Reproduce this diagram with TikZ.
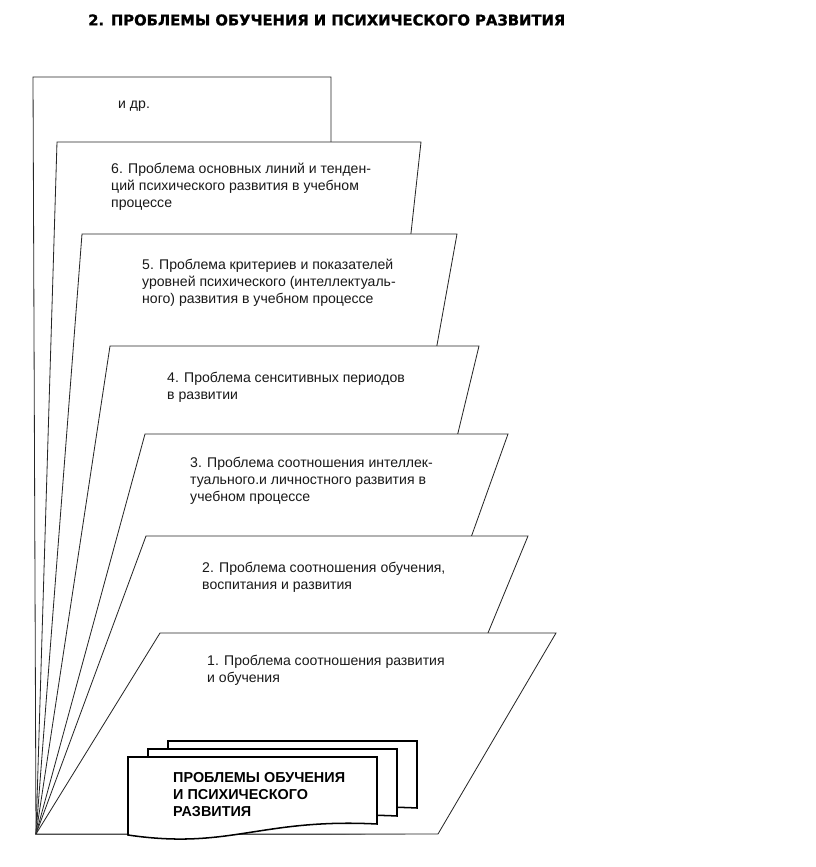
\documentclass[tikz,border=0pt]{standalone}
\usepackage{fontspec}
\setmainfont{Liberation Sans}
\newfontfamily\headfont{DejaVu Sans Bold}[FakeBold=1.2]
\usepackage{tikz}
\usetikzlibrary{positioning}

\begin{document}
\begin{tikzpicture}[
    x=0.03cm, y=-0.03cm,
    sheet/.style={draw=black!85, fill=white, line width=0.7pt},
    docpage/.style={draw=black, fill=white, line width=1.3pt},
    sheettext/.style={
        anchor=north west, inner sep=0pt, align=left,
        font=\fontsize{12}{14.5}\selectfont, text=black!90
    },
    boxtext/.style={
        anchor=north west, inner sep=0pt, align=left,
        font=\fontsize{12.3}{14.5}\selectfont\bfseries
    },
    headline/.style={anchor=west, inner sep=0pt, font=\headfont\fontsize{12.6}{15}\selectfont}
]
    \useasboundingbox (0,0) rectangle (816,867);

    % Title
    \node[headline] (head) at (88,20) {2. ПРОБЛЕМЫ ОБУЧЕНИЯ И ПСИХИЧЕСКОГО РАЗВИТИЯ};

    % Fan of sheets, back to front
    \coordinate (apex) at (36,834);
    \filldraw[sheet] (apex) -- (33,77) -- (331,77) -- (331,834) -- cycle;
    \filldraw[sheet] (apex) -- (57,142) -- (421,142) -- (345,834) -- cycle;
    \filldraw[sheet] (apex) -- (82,234) -- (457,234) -- (349,834) -- cycle;
    \filldraw[sheet] (apex) -- (110,346) -- (479,346) -- (361,834) -- cycle;
    \filldraw[sheet] (apex) -- (145,434) -- (508,434) -- (365,834) -- cycle;
    \filldraw[sheet] (apex) -- (146,536) -- (528,536) -- (405,834) -- cycle;
    \filldraw[sheet] (apex) -- (160,633) -- (556,633) -- (438,834) -- cycle;

    % Sheet texts
    \node[sheettext] (etc) at (118,101) {и др.};
    \node[sheettext] (p6) at (111,163) {6. Проблема основных линий и тенден-\\ций психического развития в учебном\\процессе};
    \node[sheettext] (p5) at (142,259) {5. Проблема критериев и показателей\\уровней психического (интеллектуаль-\\ного) развития в учебном процессе};
    \node[sheettext] (p4) at (167,372) {4. Проблема сенситивных периодов\\в развитии};
    \node[sheettext] (p3) at (190,457) {3. Проблема соотношения интеллек-\\туального.и личностного развития в\\учебном процессе};
    \node[sheettext] (p2) at (202,562) {2. Проблема соотношения обучения,\\воспитания и развития};
    \node[sheettext] (p1) at (207,655) {1. Проблема соотношения развития\\и обучения};

    % Stack of documents
    \filldraw[docpage, shift={(40,-16)}] (128,757) -- (377,757) -- (377,824)
        .. controls (260,818) and (230,850) .. (128,835) -- cycle;
    \filldraw[docpage, shift={(20,-8)}] (128,757) -- (377,757) -- (377,824)
        .. controls (260,818) and (230,850) .. (128,835) -- cycle;
    \filldraw[docpage] (128,757) -- (377,757) -- (377,824)
        .. controls (260,818) and (230,850) .. (128,835) -- cycle;
    \node[boxtext] (main) at (173,772) {ПРОБЛЕМЫ ОБУЧЕНИЯ\\И ПСИХИЧЕСКОГО\\РАЗВИТИЯ};

\end{tikzpicture}
\end{document}
